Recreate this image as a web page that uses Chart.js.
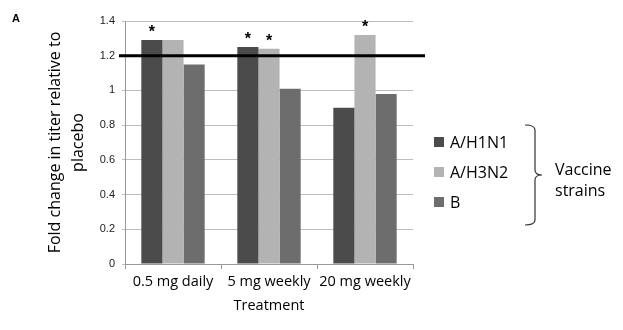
<!DOCTYPE html>
<html>
<head>
<meta charset="utf-8">
<script src="https://cdn.jsdelivr.net/npm/chart.js@4"></script>
<style>
  html, body { margin: 0; padding: 0; background: #fff; }
  #wrap { position: relative; width: 623px; height: 330px; }
</style>
</head>
<body>
<div id="wrap"><canvas id="chart" width="623" height="330"></canvas></div>
<script>
// データ
const categories = ['0.5 mg daily', '5 mg weekly', '20 mg weekly'];
const seriesNames = ['A/H1N1', 'A/H3N2', 'B'];
const h1n1 = [1.29, 1.25, 0.90];
const h3n2 = [1.29, 1.24, 1.32];
const bStrain = [1.15, 1.01, 0.98];
// 有意差マーク（*）
const starsH1N1 = [true, true, false];
const starsH3N2 = [false, true, true];
const starsB = [false, false, false];
const yTicks = [0, 0.2, 0.4, 0.6, 0.8, 1, 1.2, 1.4];
const threshold = 1.2;

const colors = ['#4b4b4b', '#b3b3b3', '#6d6d6d'];
const font = '"Open Sans", sans-serif';

// 閾値ライン・* マーク・凡例を描くプラグイン
const extras = {
  id: 'extras',
  afterDatasetsDraw(chart) {
    const ctx = chart.ctx;
    const area = chart.chartArea;
    const y = chart.scales.y;
    const stars = [starsH1N1, starsH3N2, starsB];

    // * above bars
    ctx.save();
    ctx.fillStyle = '#000';
    ctx.font = 'bold 16px "Liberation Sans", Arial, sans-serif';
    ctx.textAlign = 'center';
    ctx.textBaseline = 'middle';
    chart.data.datasets.forEach((ds, di) => {
      chart.getDatasetMeta(di).data.forEach((bar, i) => {
        if (stars[di][i]) ctx.fillText('*', bar.x, bar.y - 7);
      });
    });

    // 1.2 line
    const ly = y.getPixelForValue(threshold);
    ctx.strokeStyle = '#000';
    ctx.lineWidth = 3;
    ctx.beginPath();
    ctx.moveTo(area.left - 6, ly);
    ctx.lineTo(area.right + 12, ly);
    ctx.stroke();
    ctx.restore();
  },
  afterDraw(chart) {
    const ctx = chart.ctx;
    ctx.save();
    // panel letter
    ctx.fillStyle = '#000';
    ctx.font = 'bold 11px "Liberation Sans", Arial, sans-serif';
    ctx.textBaseline = 'middle';
    ctx.fillText('A', 12, 19);

    // legend
    ctx.font = '16px ' + font;
    chart.data.datasets.forEach((ds, i) => {
      const cy = 142 + i * 30;
      ctx.fillStyle = ds.backgroundColor;
      ctx.fillRect(434, cy - 5, 10, 10);
      ctx.fillStyle = '#000';
      ctx.fillText(ds.label, 450, cy + 1);
    });

    // bracket
    ctx.strokeStyle = '#333';
    ctx.lineWidth = 1.2;
    ctx.beginPath();
    ctx.moveTo(525, 125);
    ctx.quadraticCurveTo(535, 125, 535, 130);
    ctx.lineTo(535, 170);
    ctx.quadraticCurveTo(535, 175, 542, 175);
    ctx.quadraticCurveTo(535, 175, 535, 180);
    ctx.lineTo(535, 220);
    ctx.quadraticCurveTo(535, 225, 525, 225);
    ctx.stroke();

    ctx.fillStyle = '#000';
    ctx.fillText('Vaccine', 555, 170);
    ctx.fillText('strains', 555, 191);
    ctx.restore();
  }
};

new Chart(document.getElementById('chart'), {
  type: 'bar',
  data: {
    labels: categories,
    datasets: [
      { label: seriesNames[0], data: h1n1, backgroundColor: colors[0] },
      { label: seriesNames[1], data: h3n2, backgroundColor: colors[1] },
      { label: seriesNames[2], data: bStrain, backgroundColor: colors[2] },
    ],
  },
  options: {
    responsive: false,
    animation: false,
    layout: { padding: { left: 0, right: 210, top: 21, bottom: 0 } },
    datasets: { bar: { categoryPercentage: 0.66, barPercentage: 1 } },
    scales: {
      x: {
        grid: { offset: true, drawOnChartArea: false, drawTicks: true, tickLength: 5, color: '#999' },
        border: { color: '#999' },
        ticks: { color: '#000', font: { family: font, size: 14.5 }, padding: 4, maxRotation: 0, minRotation: 0, autoSkip: false },
        title: { display: true, text: 'Treatment', color: '#000', font: { family: font, size: 14.5 }, padding: { top: 0, bottom: 15 } },
        afterFit(scale) { scale.height = 66; },
      },
      y: {
        min: 0,
        max: 1.4,
        afterBuildTicks(scale) { scale.ticks = yTicks.map(v => ({ value: v })); },
        grid: { color: '#bdbdbd', tickLength: 3 },
        border: { color: '#999' },
        ticks: {
          color: '#222',
          font: { family: '"Liberation Sans", Arial, sans-serif', size: 11 },
          padding: 7,
          callback: v => String(v),
        },
        title: {
          display: true,
          text: ['Fold change in titer relative to', 'placebo'],
          color: '#000',
          font: { family: font, size: 16, lineHeight: 1.45 },
          padding: { top: 44, bottom: 0 },
        },
        afterFit(scale) { scale.width = 125; },
      },
    },
    plugins: {
      legend: { display: false },
      tooltip: { enabled: false },
    },
  },
  plugins: [extras],
});
</script>
</body>
</html>
